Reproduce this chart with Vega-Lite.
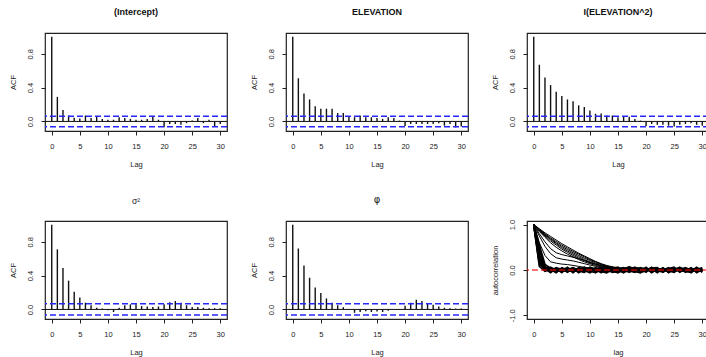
{
"$schema":"https://vega.github.io/schema/vega-lite/v6.json",
"autosize":{"type":"pad"},
"padding":{"left":8,"top":7,"right":0,"bottom":0},
"background":"white",
"datasets":{
"acf":[
{"p":1,"lag":0,"acf":1},{"p":1,"lag":1,"acf":0.29},{"p":1,"lag":2,"acf":0.135},{"p":1,"lag":3,"acf":0.07},{"p":1,"lag":4,"acf":0.045},{"p":1,"lag":5,"acf":0.035},{"p":1,"lag":6,"acf":0.07},{"p":1,"lag":7,"acf":0.04},{"p":1,"lag":8,"acf":0.06},{"p":1,"lag":9,"acf":0.03},{"p":1,"lag":10,"acf":0.02},{"p":1,"lag":11,"acf":0.02},{"p":1,"lag":12,"acf":0.05},{"p":1,"lag":13,"acf":0.04},{"p":1,"lag":14,"acf":0.03},{"p":1,"lag":15,"acf":0.02},{"p":1,"lag":16,"acf":0.02},{"p":1,"lag":17,"acf":0.03},{"p":1,"lag":18,"acf":0.06},{"p":1,"lag":19,"acf":0.02},{"p":1,"lag":20,"acf":-0.07},{"p":1,"lag":21,"acf":-0.03},{"p":1,"lag":22,"acf":-0.03},{"p":1,"lag":23,"acf":-0.04},{"p":1,"lag":24,"acf":-0.02},{"p":1,"lag":25,"acf":0.01},{"p":1,"lag":26,"acf":0.04},{"p":1,"lag":27,"acf":-0.02},{"p":1,"lag":28,"acf":0.02},{"p":1,"lag":29,"acf":-0.06},{"p":1,"lag":30,"acf":-0.03},
{"p":2,"lag":0,"acf":1},{"p":2,"lag":1,"acf":0.51},{"p":2,"lag":2,"acf":0.33},{"p":2,"lag":3,"acf":0.26},{"p":2,"lag":4,"acf":0.18},{"p":2,"lag":5,"acf":0.15},{"p":2,"lag":6,"acf":0.15},{"p":2,"lag":7,"acf":0.15},{"p":2,"lag":8,"acf":0.1},{"p":2,"lag":9,"acf":0.1},{"p":2,"lag":10,"acf":0.06},{"p":2,"lag":11,"acf":0.05},{"p":2,"lag":12,"acf":0.07},{"p":2,"lag":13,"acf":0.05},{"p":2,"lag":14,"acf":0.05},{"p":2,"lag":15,"acf":0.04},{"p":2,"lag":16,"acf":0.03},{"p":2,"lag":17,"acf":0.05},{"p":2,"lag":18,"acf":0.04},{"p":2,"lag":19,"acf":0.01},{"p":2,"lag":20,"acf":-0.055},{"p":2,"lag":21,"acf":-0.03},{"p":2,"lag":22,"acf":-0.03},{"p":2,"lag":23,"acf":-0.03},{"p":2,"lag":24,"acf":-0.03},{"p":2,"lag":25,"acf":-0.03},{"p":2,"lag":26,"acf":-0.02},{"p":2,"lag":27,"acf":-0.05},{"p":2,"lag":28,"acf":-0.03},{"p":2,"lag":29,"acf":-0.07},{"p":2,"lag":30,"acf":-0.06},
{"p":3,"lag":0,"acf":1},{"p":3,"lag":1,"acf":0.67},{"p":3,"lag":2,"acf":0.52},{"p":3,"lag":3,"acf":0.43},{"p":3,"lag":4,"acf":0.35},{"p":3,"lag":5,"acf":0.3},{"p":3,"lag":6,"acf":0.26},{"p":3,"lag":7,"acf":0.24},{"p":3,"lag":8,"acf":0.19},{"p":3,"lag":9,"acf":0.17},{"p":3,"lag":10,"acf":0.13},{"p":3,"lag":11,"acf":0.09},{"p":3,"lag":12,"acf":0.095},{"p":3,"lag":13,"acf":0.07},{"p":3,"lag":14,"acf":0.07},{"p":3,"lag":15,"acf":0.05},{"p":3,"lag":16,"acf":0.06},{"p":3,"lag":17,"acf":0.055},{"p":3,"lag":18,"acf":0.03},{"p":3,"lag":19,"acf":0.01},{"p":3,"lag":20,"acf":-0.055},{"p":3,"lag":21,"acf":-0.03},{"p":3,"lag":22,"acf":-0.04},{"p":3,"lag":23,"acf":-0.04},{"p":3,"lag":24,"acf":-0.05},{"p":3,"lag":25,"acf":-0.06},{"p":3,"lag":26,"acf":-0.04},{"p":3,"lag":27,"acf":-0.03},{"p":3,"lag":28,"acf":-0.02},{"p":3,"lag":29,"acf":-0.04},{"p":3,"lag":30,"acf":-0.05},
{"p":4,"lag":0,"acf":1},{"p":4,"lag":1,"acf":0.71},{"p":4,"lag":2,"acf":0.49},{"p":4,"lag":3,"acf":0.34},{"p":4,"lag":4,"acf":0.21},{"p":4,"lag":5,"acf":0.14},{"p":4,"lag":6,"acf":0.08},{"p":4,"lag":7,"acf":0.05},{"p":4,"lag":8,"acf":0.02},{"p":4,"lag":9,"acf":0.01},{"p":4,"lag":10,"acf":-0.01},{"p":4,"lag":11,"acf":-0.03},{"p":4,"lag":12,"acf":0.02},{"p":4,"lag":13,"acf":0.05},{"p":4,"lag":14,"acf":0.06},{"p":4,"lag":15,"acf":0.06},{"p":4,"lag":16,"acf":0.04},{"p":4,"lag":17,"acf":0.035},{"p":4,"lag":18,"acf":0.03},{"p":4,"lag":19,"acf":0.035},{"p":4,"lag":20,"acf":0.06},{"p":4,"lag":21,"acf":0.085},{"p":4,"lag":22,"acf":0.1},{"p":4,"lag":23,"acf":0.08},{"p":4,"lag":24,"acf":0.05},{"p":4,"lag":25,"acf":0.03},{"p":4,"lag":26,"acf":0.03},{"p":4,"lag":27,"acf":0.02},{"p":4,"lag":28,"acf":0.015},{"p":4,"lag":29,"acf":0.015},{"p":4,"lag":30,"acf":0.015},
{"p":5,"lag":0,"acf":1},{"p":5,"lag":1,"acf":0.72},{"p":5,"lag":2,"acf":0.52},{"p":5,"lag":3,"acf":0.375},{"p":5,"lag":4,"acf":0.26},{"p":5,"lag":5,"acf":0.195},{"p":5,"lag":6,"acf":0.13},{"p":5,"lag":7,"acf":0.08},{"p":5,"lag":8,"acf":0.05},{"p":5,"lag":9,"acf":0.025},{"p":5,"lag":10,"acf":0.005},{"p":5,"lag":11,"acf":-0.04},{"p":5,"lag":12,"acf":-0.03},{"p":5,"lag":13,"acf":-0.02},{"p":5,"lag":14,"acf":-0.03},{"p":5,"lag":15,"acf":-0.025},{"p":5,"lag":16,"acf":-0.03},{"p":5,"lag":17,"acf":-0.015},{"p":5,"lag":18,"acf":-0.005},{"p":5,"lag":19,"acf":0.005},{"p":5,"lag":20,"acf":0.045},{"p":5,"lag":21,"acf":0.08},{"p":5,"lag":22,"acf":0.115},{"p":5,"lag":23,"acf":0.1},{"p":5,"lag":24,"acf":0.07},{"p":5,"lag":25,"acf":0.055},{"p":5,"lag":26,"acf":0.035},{"p":5,"lag":27,"acf":0.02},{"p":5,"lag":28,"acf":0.015},{"p":5,"lag":29,"acf":0.01},{"p":5,"lag":30,"acf":0.01}
],
"clim":[
{"p":1,"c":0.062},{"p":1,"c":-0.062},{"p":2,"c":0.062},{"p":2,"c":-0.062},{"p":3,"c":0.062},{"p":3,"c":-0.062},
{"p":4,"c":0.066},{"p":4,"c":-0.066},{"p":5,"c":0.066},{"p":5,"c":-0.066}
],
"chains":[
{"c":"s1","l":0,"v":1},{"c":"s1","l":1,"v":0.91},{"c":"s1","l":2,"v":0.82},{"c":"s1","l":3,"v":0.74},{"c":"s1","l":4,"v":0.66},{"c":"s1","l":5,"v":0.58},{"c":"s1","l":6,"v":0.51},{"c":"s1","l":7,"v":0.44},{"c":"s1","l":8,"v":0.37},{"c":"s1","l":9,"v":0.31},{"c":"s1","l":10,"v":0.25},{"c":"s1","l":11,"v":0.19},{"c":"s1","l":12,"v":0.14},{"c":"s1","l":13,"v":0.1},{"c":"s1","l":14,"v":0.07},{"c":"s1","l":15,"v":0.05},{"c":"s1","l":16,"v":0.04},{"c":"s1","l":17,"v":0.03},{"c":"s1","l":18,"v":0.03},{"c":"s1","l":19,"v":0.02},{"c":"s1","l":20,"v":0.02},{"c":"s1","l":21,"v":0.03},{"c":"s1","l":22,"v":0.02},{"c":"s1","l":23,"v":0.01},{"c":"s1","l":24,"v":0.02},{"c":"s1","l":25,"v":0.01},{"c":"s1","l":26,"v":0},{"c":"s1","l":27,"v":0.01},{"c":"s1","l":28,"v":0.02},{"c":"s1","l":29,"v":0.01},{"c":"s1","l":30,"v":0},
{"c":"s2","l":0,"v":1},{"c":"s2","l":1,"v":0.9},{"c":"s2","l":2,"v":0.8},{"c":"s2","l":3,"v":0.71},{"c":"s2","l":4,"v":0.63},{"c":"s2","l":5,"v":0.55},{"c":"s2","l":6,"v":0.48},{"c":"s2","l":7,"v":0.41},{"c":"s2","l":8,"v":0.35},{"c":"s2","l":9,"v":0.29},{"c":"s2","l":10,"v":0.23},{"c":"s2","l":11,"v":0.18},{"c":"s2","l":12,"v":0.13},{"c":"s2","l":13,"v":0.09},{"c":"s2","l":14,"v":0.06},{"c":"s2","l":15,"v":0.04},{"c":"s2","l":16,"v":0.03},{"c":"s2","l":17,"v":0.04},{"c":"s2","l":18,"v":0.03},{"c":"s2","l":19,"v":0.02},{"c":"s2","l":20,"v":0.01},{"c":"s2","l":21,"v":0.02},{"c":"s2","l":22,"v":0.01},{"c":"s2","l":23,"v":0},{"c":"s2","l":24,"v":0.01},{"c":"s2","l":25,"v":0.02},{"c":"s2","l":26,"v":0.01},{"c":"s2","l":27,"v":0},{"c":"s2","l":28,"v":0.01},{"c":"s2","l":29,"v":0},{"c":"s2","l":30,"v":0.01},
{"c":"s3","l":0,"v":1},{"c":"s3","l":1,"v":0.89},{"c":"s3","l":2,"v":0.78},{"c":"s3","l":3,"v":0.69},{"c":"s3","l":4,"v":0.6},{"c":"s3","l":5,"v":0.52},{"c":"s3","l":6,"v":0.45},{"c":"s3","l":7,"v":0.38},{"c":"s3","l":8,"v":0.32},{"c":"s3","l":9,"v":0.26},{"c":"s3","l":10,"v":0.21},{"c":"s3","l":11,"v":0.16},{"c":"s3","l":12,"v":0.12},{"c":"s3","l":13,"v":0.08},{"c":"s3","l":14,"v":0.05},{"c":"s3","l":15,"v":0.04},{"c":"s3","l":16,"v":0.03},{"c":"s3","l":17,"v":0.02},{"c":"s3","l":18,"v":0.03},{"c":"s3","l":19,"v":0.02},{"c":"s3","l":20,"v":0.01},{"c":"s3","l":21,"v":0},{"c":"s3","l":22,"v":0.01},{"c":"s3","l":23,"v":0.02},{"c":"s3","l":24,"v":0.01},{"c":"s3","l":25,"v":0},{"c":"s3","l":26,"v":-0.01},{"c":"s3","l":27,"v":0},{"c":"s3","l":28,"v":0.01},{"c":"s3","l":29,"v":0},{"c":"s3","l":30,"v":-0.01},
{"c":"s4","l":0,"v":1},{"c":"s4","l":1,"v":0.88},{"c":"s4","l":2,"v":0.77},{"c":"s4","l":3,"v":0.67},{"c":"s4","l":4,"v":0.58},{"c":"s4","l":5,"v":0.49},{"c":"s4","l":6,"v":0.42},{"c":"s4","l":7,"v":0.35},{"c":"s4","l":8,"v":0.29},{"c":"s4","l":9,"v":0.23},{"c":"s4","l":10,"v":0.18},{"c":"s4","l":11,"v":0.14},{"c":"s4","l":12,"v":0.1},{"c":"s4","l":13,"v":0.07},{"c":"s4","l":14,"v":0.05},{"c":"s4","l":15,"v":0.03},{"c":"s4","l":16,"v":0.02},{"c":"s4","l":17,"v":0.08},{"c":"s4","l":18,"v":0.03},{"c":"s4","l":19,"v":0.01},{"c":"s4","l":20,"v":0},{"c":"s4","l":21,"v":0.01},{"c":"s4","l":22,"v":0},{"c":"s4","l":23,"v":-0.01},{"c":"s4","l":24,"v":0},{"c":"s4","l":25,"v":0.01},{"c":"s4","l":26,"v":0},{"c":"s4","l":27,"v":-0.01},{"c":"s4","l":28,"v":0},{"c":"s4","l":29,"v":0.01},{"c":"s4","l":30,"v":0},
{"c":"s5","l":0,"v":1},{"c":"s5","l":1,"v":0.87},{"c":"s5","l":2,"v":0.75},{"c":"s5","l":3,"v":0.64},{"c":"s5","l":4,"v":0.55},{"c":"s5","l":5,"v":0.46},{"c":"s5","l":6,"v":0.39},{"c":"s5","l":7,"v":0.32},{"c":"s5","l":8,"v":0.26},{"c":"s5","l":9,"v":0.21},{"c":"s5","l":10,"v":0.16},{"c":"s5","l":11,"v":0.12},{"c":"s5","l":12,"v":0.09},{"c":"s5","l":13,"v":0.06},{"c":"s5","l":14,"v":0.04},{"c":"s5","l":15,"v":0.03},{"c":"s5","l":16,"v":0.02},{"c":"s5","l":17,"v":0.01},{"c":"s5","l":18,"v":0},{"c":"s5","l":19,"v":0.01},{"c":"s5","l":20,"v":0},{"c":"s5","l":21,"v":-0.01},{"c":"s5","l":22,"v":0},{"c":"s5","l":23,"v":0.01},{"c":"s5","l":24,"v":0},{"c":"s5","l":25,"v":-0.01},{"c":"s5","l":26,"v":0},{"c":"s5","l":27,"v":0.01},{"c":"s5","l":28,"v":0},{"c":"s5","l":29,"v":-0.01},{"c":"s5","l":30,"v":0},
{"c":"s6","l":0,"v":1},{"c":"s6","l":1,"v":0.85},{"c":"s6","l":2,"v":0.72},{"c":"s6","l":3,"v":0.6},{"c":"s6","l":4,"v":0.5},{"c":"s6","l":5,"v":0.42},{"c":"s6","l":6,"v":0.35},{"c":"s6","l":7,"v":0.29},{"c":"s6","l":8,"v":0.23},{"c":"s6","l":9,"v":0.18},{"c":"s6","l":10,"v":0.14},{"c":"s6","l":11,"v":0.1},{"c":"s6","l":12,"v":0.07},{"c":"s6","l":13,"v":0.05},{"c":"s6","l":14,"v":0.03},{"c":"s6","l":15,"v":0.02},{"c":"s6","l":16,"v":0.01},{"c":"s6","l":17,"v":0},{"c":"s6","l":18,"v":0.01},{"c":"s6","l":19,"v":0},{"c":"s6","l":20,"v":-0.01},{"c":"s6","l":21,"v":0},{"c":"s6","l":22,"v":0.01},{"c":"s6","l":23,"v":0},{"c":"s6","l":24,"v":-0.01},{"c":"s6","l":25,"v":0},{"c":"s6","l":26,"v":0.01},{"c":"s6","l":27,"v":0},{"c":"s6","l":28,"v":-0.01},{"c":"s6","l":29,"v":0},{"c":"s6","l":30,"v":0.01},
{"c":"s7","l":0,"v":1},{"c":"s7","l":1,"v":0.8},{"c":"s7","l":2,"v":0.62},{"c":"s7","l":3,"v":0.47},{"c":"s7","l":4,"v":0.38},{"c":"s7","l":5,"v":0.34},{"c":"s7","l":6,"v":0.31},{"c":"s7","l":7,"v":0.28},{"c":"s7","l":8,"v":0.25},{"c":"s7","l":9,"v":0.21},{"c":"s7","l":10,"v":0.17},{"c":"s7","l":11,"v":0.13},{"c":"s7","l":12,"v":0.09},{"c":"s7","l":13,"v":0.06},{"c":"s7","l":14,"v":0.04},{"c":"s7","l":15,"v":0.02},{"c":"s7","l":16,"v":0.01},{"c":"s7","l":17,"v":0},{"c":"s7","l":18,"v":-0.01},{"c":"s7","l":19,"v":0},{"c":"s7","l":20,"v":0.01},{"c":"s7","l":21,"v":0},{"c":"s7","l":22,"v":-0.01},{"c":"s7","l":23,"v":0},{"c":"s7","l":24,"v":0.01},{"c":"s7","l":25,"v":0},{"c":"s7","l":26,"v":-0.01},{"c":"s7","l":27,"v":0},{"c":"s7","l":28,"v":0.01},{"c":"s7","l":29,"v":0},{"c":"s7","l":30,"v":-0.01},
{"c":"s8","l":0,"v":1},{"c":"s8","l":1,"v":0.75},{"c":"s8","l":2,"v":0.52},{"c":"s8","l":3,"v":0.36},{"c":"s8","l":4,"v":0.27},{"c":"s8","l":5,"v":0.24},{"c":"s8","l":6,"v":0.22},{"c":"s8","l":7,"v":0.2},{"c":"s8","l":8,"v":0.17},{"c":"s8","l":9,"v":0.14},{"c":"s8","l":10,"v":0.11},{"c":"s8","l":11,"v":0.08},{"c":"s8","l":12,"v":0.05},{"c":"s8","l":13,"v":0.03},{"c":"s8","l":14,"v":0.02},{"c":"s8","l":15,"v":0.01},{"c":"s8","l":16,"v":0},{"c":"s8","l":17,"v":0.01},{"c":"s8","l":18,"v":0},{"c":"s8","l":19,"v":-0.01},{"c":"s8","l":20,"v":0},{"c":"s8","l":21,"v":0.01},{"c":"s8","l":22,"v":0},{"c":"s8","l":23,"v":-0.01},{"c":"s8","l":24,"v":0},{"c":"s8","l":25,"v":0.01},{"c":"s8","l":26,"v":0},{"c":"s8","l":27,"v":-0.01},{"c":"s8","l":28,"v":0},{"c":"s8","l":29,"v":0.01},{"c":"s8","l":30,"v":0},
{"c":"s9","l":0,"v":1},{"c":"s9","l":1,"v":0.6},{"c":"s9","l":2,"v":0.32},{"c":"s9","l":3,"v":0.18},{"c":"s9","l":4,"v":0.15},{"c":"s9","l":5,"v":0.13},{"c":"s9","l":6,"v":0.12},{"c":"s9","l":7,"v":0.1},{"c":"s9","l":8,"v":0.08},{"c":"s9","l":9,"v":0.06},{"c":"s9","l":10,"v":0.04},{"c":"s9","l":11,"v":0.03},{"c":"s9","l":12,"v":0.02},{"c":"s9","l":13,"v":0.01},{"c":"s9","l":14,"v":0},{"c":"s9","l":15,"v":0.01},{"c":"s9","l":16,"v":0},{"c":"s9","l":17,"v":-0.01},{"c":"s9","l":18,"v":0},{"c":"s9","l":19,"v":0.01},{"c":"s9","l":20,"v":0},{"c":"s9","l":21,"v":-0.01},{"c":"s9","l":22,"v":0},{"c":"s9","l":23,"v":0.01},{"c":"s9","l":24,"v":0},{"c":"s9","l":25,"v":-0.01},{"c":"s9","l":26,"v":0},{"c":"s9","l":27,"v":0.01},{"c":"s9","l":28,"v":0},{"c":"s9","l":29,"v":-0.01},{"c":"s9","l":30,"v":0},
{"c":"f1","l":0,"v":1},{"c":"f1","l":1,"v":0.55},{"c":"f1","l":2,"v":0.12},{"c":"f1","l":3,"v":0.04},{"c":"f1","l":4,"v":0.02},{"c":"f1","l":5,"v":-0.03},{"c":"f1","l":6,"v":0.01},{"c":"f1","l":7,"v":0.05},{"c":"f1","l":8,"v":-0.02},{"c":"f1","l":9,"v":-0.05},{"c":"f1","l":10,"v":0.03},{"c":"f1","l":11,"v":0},{"c":"f1","l":12,"v":-0.04},{"c":"f1","l":13,"v":0.02},{"c":"f1","l":14,"v":0.05},{"c":"f1","l":15,"v":-0.01},{"c":"f1","l":16,"v":-0.06},{"c":"f1","l":17,"v":0.02},{"c":"f1","l":18,"v":0.04},{"c":"f1","l":19,"v":-0.03},{"c":"f1","l":20,"v":0.01},{"c":"f1","l":21,"v":0.05},{"c":"f1","l":22,"v":-0.02},{"c":"f1","l":23,"v":-0.04},{"c":"f1","l":24,"v":0.03},{"c":"f1","l":25,"v":-0.01},{"c":"f1","l":26,"v":0.06},{"c":"f1","l":27,"v":-0.03},{"c":"f1","l":28,"v":-0.05},{"c":"f1","l":29,"v":0.02},{"c":"f1","l":30,"v":0.04},
{"c":"f2","l":0,"v":1},{"c":"f2","l":1,"v":0.45},{"c":"f2","l":2,"v":0.08},{"c":"f2","l":3,"v":-0.02},{"c":"f2","l":4,"v":0.05},{"c":"f2","l":5,"v":0.01},{"c":"f2","l":6,"v":-0.04},{"c":"f2","l":7,"v":0.03},{"c":"f2","l":8,"v":-0.06},{"c":"f2","l":9,"v":0.02},{"c":"f2","l":10,"v":0.04},{"c":"f2","l":11,"v":-0.03},{"c":"f2","l":12,"v":0.01},{"c":"f2","l":13,"v":-0.05},{"c":"f2","l":14,"v":0.03},{"c":"f2","l":15,"v":0.06},{"c":"f2","l":16,"v":-0.02},{"c":"f2","l":17,"v":-0.04},{"c":"f2","l":18,"v":0.01},{"c":"f2","l":19,"v":0.05},{"c":"f2","l":20,"v":-0.03},{"c":"f2","l":21,"v":0.02},{"c":"f2","l":22,"v":-0.06},{"c":"f2","l":23,"v":0.04},{"c":"f2","l":24,"v":-0.01},{"c":"f2","l":25,"v":0.03},{"c":"f2","l":26,"v":-0.04},{"c":"f2","l":27,"v":0.05},{"c":"f2","l":28,"v":0},{"c":"f2","l":29,"v":-0.03},{"c":"f2","l":30,"v":0.02},
{"c":"f3","l":0,"v":1},{"c":"f3","l":1,"v":0.35},{"c":"f3","l":2,"v":0.05},{"c":"f3","l":3,"v":0.03},{"c":"f3","l":4,"v":-0.05},{"c":"f3","l":5,"v":0.04},{"c":"f3","l":6,"v":0.02},{"c":"f3","l":7,"v":-0.03},{"c":"f3","l":8,"v":0.05},{"c":"f3","l":9,"v":-0.01},{"c":"f3","l":10,"v":-0.06},{"c":"f3","l":11,"v":0.03},{"c":"f3","l":12,"v":0.05},{"c":"f3","l":13,"v":-0.02},{"c":"f3","l":14,"v":-0.04},{"c":"f3","l":15,"v":0.02},{"c":"f3","l":16,"v":0.04},{"c":"f3","l":17,"v":-0.05},{"c":"f3","l":18,"v":0.03},{"c":"f3","l":19,"v":-0.02},{"c":"f3","l":20,"v":0.06},{"c":"f3","l":21,"v":-0.04},{"c":"f3","l":22,"v":0.01},{"c":"f3","l":23,"v":0.03},{"c":"f3","l":24,"v":-0.05},{"c":"f3","l":25,"v":0.04},{"c":"f3","l":26,"v":-0.02},{"c":"f3","l":27,"v":-0.03},{"c":"f3","l":28,"v":0.05},{"c":"f3","l":29,"v":-0.06},{"c":"f3","l":30,"v":0.01},
{"c":"f4","l":0,"v":1},{"c":"f4","l":1,"v":0.25},{"c":"f4","l":2,"v":0.02},{"c":"f4","l":3,"v":-0.04},{"c":"f4","l":4,"v":0.03},{"c":"f4","l":5,"v":-0.06},{"c":"f4","l":6,"v":0.05},{"c":"f4","l":7,"v":-0.01},{"c":"f4","l":8,"v":0.03},{"c":"f4","l":9,"v":0.05},{"c":"f4","l":10,"v":-0.03},{"c":"f4","l":11,"v":-0.05},{"c":"f4","l":12,"v":0.04},{"c":"f4","l":13,"v":0.01},{"c":"f4","l":14,"v":-0.02},{"c":"f4","l":15,"v":-0.06},{"c":"f4","l":16,"v":0.03},{"c":"f4","l":17,"v":0.05},{"c":"f4","l":18,"v":-0.04},{"c":"f4","l":19,"v":0.02},{"c":"f4","l":20,"v":-0.01},{"c":"f4","l":21,"v":0.04},{"c":"f4","l":22,"v":0.05},{"c":"f4","l":23,"v":-0.05},{"c":"f4","l":24,"v":0.02},{"c":"f4","l":25,"v":-0.03},{"c":"f4","l":26,"v":0.01},{"c":"f4","l":27,"v":0.04},{"c":"f4","l":28,"v":-0.06},{"c":"f4","l":29,"v":0.03},{"c":"f4","l":30,"v":-0.04},
{"c":"f5","l":0,"v":1},{"c":"f5","l":1,"v":0.18},{"c":"f5","l":2,"v":-0.01},{"c":"f5","l":3,"v":0.06},{"c":"f5","l":4,"v":-0.02},{"c":"f5","l":5,"v":0.03},{"c":"f5","l":6,"v":-0.05},{"c":"f5","l":7,"v":0.04},{"c":"f5","l":8,"v":0.01},{"c":"f5","l":9,"v":-0.04},{"c":"f5","l":10,"v":0.06},{"c":"f5","l":11,"v":0.02},{"c":"f5","l":12,"v":-0.06},{"c":"f5","l":13,"v":0.04},{"c":"f5","l":14,"v":-0.03},{"c":"f5","l":15,"v":0.01},{"c":"f5","l":16,"v":0.05},{"c":"f5","l":17,"v":-0.02},{"c":"f5","l":18,"v":-0.05},{"c":"f5","l":19,"v":0.04},{"c":"f5","l":20,"v":0.03},{"c":"f5","l":21,"v":-0.06},{"c":"f5","l":22,"v":0.02},{"c":"f5","l":23,"v":0},{"c":"f5","l":24,"v":0.05},{"c":"f5","l":25,"v":-0.04},{"c":"f5","l":26,"v":0.03},{"c":"f5","l":27,"v":-0.02},{"c":"f5","l":28,"v":0.04},{"c":"f5","l":29,"v":-0.01},{"c":"f5","l":30,"v":0.05},
{"c":"f6","l":0,"v":1},{"c":"f6","l":1,"v":0.12},{"c":"f6","l":2,"v":0.03},{"c":"f6","l":3,"v":-0.06},{"c":"f6","l":4,"v":0.04},{"c":"f6","l":5,"v":-0.02},{"c":"f6","l":6,"v":0.06},{"c":"f6","l":7,"v":-0.05},{"c":"f6","l":8,"v":0.02},{"c":"f6","l":9,"v":0.04},{"c":"f6","l":10,"v":-0.02},{"c":"f6","l":11,"v":0.05},{"c":"f6","l":12,"v":-0.03},{"c":"f6","l":13,"v":-0.06},{"c":"f6","l":14,"v":0.02},{"c":"f6","l":15,"v":0.04},{"c":"f6","l":16,"v":-0.04},{"c":"f6","l":17,"v":0.01},{"c":"f6","l":18,"v":0.06},{"c":"f6","l":19,"v":-0.05},{"c":"f6","l":20,"v":-0.02},{"c":"f6","l":21,"v":0.03},{"c":"f6","l":22,"v":-0.03},{"c":"f6","l":23,"v":0.05},{"c":"f6","l":24,"v":-0.06},{"c":"f6","l":25,"v":0.02},{"c":"f6","l":26,"v":0.05},{"c":"f6","l":27,"v":-0.05},{"c":"f6","l":28,"v":0.01},{"c":"f6","l":29,"v":0.04},{"c":"f6","l":30,"v":-0.03},
{"c":"f7","l":0,"v":1},{"c":"f7","l":1,"v":0.08},{"c":"f7","l":2,"v":-0.03},{"c":"f7","l":3,"v":0.01},{"c":"f7","l":4,"v":-0.06},{"c":"f7","l":5,"v":0.05},{"c":"f7","l":6,"v":-0.03},{"c":"f7","l":7,"v":0.02},{"c":"f7","l":8,"v":-0.04},{"c":"f7","l":9,"v":0.06},{"c":"f7","l":10,"v":0.01},{"c":"f7","l":11,"v":-0.06},{"c":"f7","l":12,"v":0.03},{"c":"f7","l":13,"v":0.05},{"c":"f7","l":14,"v":-0.05},{"c":"f7","l":15,"v":-0.03},{"c":"f7","l":16,"v":0.02},{"c":"f7","l":17,"v":0.06},{"c":"f7","l":18,"v":-0.03},{"c":"f7","l":19,"v":-0.06},{"c":"f7","l":20,"v":0.04},{"c":"f7","l":21,"v":-0.01},{"c":"f7","l":22,"v":0.04},{"c":"f7","l":23,"v":-0.03},{"c":"f7","l":24,"v":0.03},{"c":"f7","l":25,"v":0.06},{"c":"f7","l":26,"v":-0.05},{"c":"f7","l":27,"v":0.02},{"c":"f7","l":28,"v":-0.03},{"c":"f7","l":29,"v":0.05},{"c":"f7","l":30,"v":-0.05},
{"c":"f8","l":0,"v":1},{"c":"f8","l":1,"v":0.3},{"c":"f8","l":2,"v":0.06},{"c":"f8","l":3,"v":0.02},{"c":"f8","l":4,"v":0.01},{"c":"f8","l":5,"v":-0.04},{"c":"f8","l":6,"v":0.03},{"c":"f8","l":7,"v":-0.06},{"c":"f8","l":8,"v":0.04},{"c":"f8","l":9,"v":0},{"c":"f8","l":10,"v":0.05},{"c":"f8","l":11,"v":-0.04},{"c":"f8","l":12,"v":-0.02},{"c":"f8","l":13,"v":0.03},{"c":"f8","l":14,"v":0.06},{"c":"f8","l":15,"v":-0.05},{"c":"f8","l":16,"v":0},{"c":"f8","l":17,"v":-0.03},{"c":"f8","l":18,"v":0.05},{"c":"f8","l":19,"v":0.03},{"c":"f8","l":20,"v":-0.05},{"c":"f8","l":21,"v":0.06},{"c":"f8","l":22,"v":-0.04},{"c":"f8","l":23,"v":0.02},{"c":"f8","l":24,"v":-0.02},{"c":"f8","l":25,"v":-0.05},{"c":"f8","l":26,"v":0.04},{"c":"f8","l":27,"v":0.03},{"c":"f8","l":28,"v":-0.04},{"c":"f8","l":29,"v":0.06},{"c":"f8","l":30,"v":-0.02}
]
},
"columns":3,
"spacing":{"row":90,"column":59},
"bounds":"flush",
"concat":[
{"width":182,"height":98,"title":{"text":"(Intercept)"},
 "layer":[
  {"data":{"name":"acf"},"transform":[{"filter":"datum.p==1"}],"mark":{"type":"rule","color":"#111","strokeWidth":1.4},
   "encoding":{"x":{"field":"lag","type":"quantitative","scale":{"domain":[-1.2,31.2],"nice":false,"zero":false},"axis":{"values":[0,5,10,15,20,25,30],"title":"Lag"}},
    "y":{"field":"acf","type":"quantitative","scale":{"domain":[-0.113,1.045],"nice":false,"zero":false},"axis":{"values":[0,0.2,0.4,0.6,0.8,1],"title":"ACF","labelExpr":"(datum.value==0||abs(datum.value-0.4)<0.001||abs(datum.value-0.8)<0.001)?format(datum.value,'.1f'):''"}},
    "y2":{"datum":0}}},
  {"data":{"values":[{}]},"mark":{"type":"rule","color":"#111","strokeWidth":1},"encoding":{"y":{"datum":0}}},
  {"data":{"name":"clim"},"transform":[{"filter":"datum.p==1"}],"mark":{"type":"rule","color":"#2626ff","strokeDash":[6,3],"strokeWidth":1.5},"encoding":{"y":{"field":"c","type":"quantitative"}}}
 ]},
{"width":182,"height":98,"title":{"text":"ELEVATION"},
 "layer":[
  {"data":{"name":"acf"},"transform":[{"filter":"datum.p==2"}],"mark":{"type":"rule","color":"#111","strokeWidth":1.4},
   "encoding":{"x":{"field":"lag","type":"quantitative","scale":{"domain":[-1.2,31.2],"nice":false,"zero":false},"axis":{"values":[0,5,10,15,20,25,30],"title":"Lag"}},
    "y":{"field":"acf","type":"quantitative","scale":{"domain":[-0.113,1.045],"nice":false,"zero":false},"axis":{"values":[0,0.2,0.4,0.6,0.8,1],"title":"ACF","labelExpr":"(datum.value==0||abs(datum.value-0.4)<0.001||abs(datum.value-0.8)<0.001)?format(datum.value,'.1f'):''"}},
    "y2":{"datum":0}}},
  {"data":{"values":[{}]},"mark":{"type":"rule","color":"#111","strokeWidth":1},"encoding":{"y":{"datum":0}}},
  {"data":{"name":"clim"},"transform":[{"filter":"datum.p==2"}],"mark":{"type":"rule","color":"#2626ff","strokeDash":[6,3],"strokeWidth":1.5},"encoding":{"y":{"field":"c","type":"quantitative"}}}
 ]},
{"width":182,"height":98,"title":{"text":"I(ELEVATION^2)"},
 "layer":[
  {"data":{"name":"acf"},"transform":[{"filter":"datum.p==3"}],"mark":{"type":"rule","color":"#111","strokeWidth":1.4},
   "encoding":{"x":{"field":"lag","type":"quantitative","scale":{"domain":[-1.2,31.2],"nice":false,"zero":false},"axis":{"values":[0,5,10,15,20,25,30],"title":"Lag"}},
    "y":{"field":"acf","type":"quantitative","scale":{"domain":[-0.113,1.045],"nice":false,"zero":false},"axis":{"values":[0,0.2,0.4,0.6,0.8,1],"title":"ACF","labelExpr":"(datum.value==0||abs(datum.value-0.4)<0.001||abs(datum.value-0.8)<0.001)?format(datum.value,'.1f'):''"}},
    "y2":{"datum":0}}},
  {"data":{"values":[{}]},"mark":{"type":"rule","color":"#111","strokeWidth":1},"encoding":{"y":{"datum":0}}},
  {"data":{"name":"clim"},"transform":[{"filter":"datum.p==3"}],"mark":{"type":"rule","color":"#2626ff","strokeDash":[6,3],"strokeWidth":1.5},"encoding":{"y":{"field":"c","type":"quantitative"}}}
 ]},
{"width":182,"height":98,"title":{"text":"σ²","fontWeight":"normal","fontSize":8.5},
 "layer":[
  {"data":{"name":"acf"},"transform":[{"filter":"datum.p==4"}],"mark":{"type":"rule","color":"#111","strokeWidth":1.4},
   "encoding":{"x":{"field":"lag","type":"quantitative","scale":{"domain":[-1.2,31.2],"nice":false,"zero":false},"axis":{"values":[0,5,10,15,20,25,30],"title":"Lag"}},
    "y":{"field":"acf","type":"quantitative","scale":{"domain":[-0.113,1.045],"nice":false,"zero":false},"axis":{"values":[0,0.2,0.4,0.6,0.8,1],"title":"ACF","labelExpr":"(datum.value==0||abs(datum.value-0.4)<0.001||abs(datum.value-0.8)<0.001)?format(datum.value,'.1f'):''"}},
    "y2":{"datum":0}}},
  {"data":{"values":[{}]},"mark":{"type":"rule","color":"#111","strokeWidth":1},"encoding":{"y":{"datum":0}}},
  {"data":{"name":"clim"},"transform":[{"filter":"datum.p==4"}],"mark":{"type":"rule","color":"#2626ff","strokeDash":[6,3],"strokeWidth":1.5},"encoding":{"y":{"field":"c","type":"quantitative"}}}
 ]},
{"width":182,"height":98,"title":{"text":"φ","fontWeight":"normal","fontSize":10,"color":"#222","font":"DejaVu Sans"},
 "layer":[
  {"data":{"name":"acf"},"transform":[{"filter":"datum.p==5"}],"mark":{"type":"rule","color":"#111","strokeWidth":1.4},
   "encoding":{"x":{"field":"lag","type":"quantitative","scale":{"domain":[-1.2,31.2],"nice":false,"zero":false},"axis":{"values":[0,5,10,15,20,25,30],"title":"Lag"}},
    "y":{"field":"acf","type":"quantitative","scale":{"domain":[-0.113,1.045],"nice":false,"zero":false},"axis":{"values":[0,0.2,0.4,0.6,0.8,1],"title":"ACF","labelExpr":"(datum.value==0||abs(datum.value-0.4)<0.001||abs(datum.value-0.8)<0.001)?format(datum.value,'.1f'):''"}},
    "y2":{"datum":0}}},
  {"data":{"values":[{}]},"mark":{"type":"rule","color":"#111","strokeWidth":1},"encoding":{"y":{"datum":0}}},
  {"data":{"name":"clim"},"transform":[{"filter":"datum.p==5"}],"mark":{"type":"rule","color":"#2626ff","strokeDash":[6,3],"strokeWidth":1.5},"encoding":{"y":{"field":"c","type":"quantitative"}}}
 ]},
{"width":182,"height":98,
 "layer":[
  {"data":{"name":"chains"},"transform":[{"filter":"indexof(datum.c,'s')==0"}],"mark":{"type":"line","color":"black","strokeWidth":1},
   "encoding":{"x":{"field":"l","type":"quantitative","scale":{"domain":[-1.2,31.2],"nice":false,"zero":false},"axis":{"values":[0,5,10,15,20,25,30],"title":"lag"}},
    "y":{"field":"v","type":"quantitative","scale":{"domain":[-1.08,1.08],"nice":false,"zero":false},"axis":{"values":[-1,-0.5,0,0.5,1],"title":"autocorrelation","labelExpr":"replace(format(datum.value,'.1f'),'−','-')"}},
    "detail":{"field":"c"}}},
  {"data":{"name":"chains"},"transform":[{"filter":"indexof(datum.c,'f')==0"}],"mark":{"type":"line","color":"black","strokeWidth":1.7},
   "encoding":{"x":{"field":"l","type":"quantitative","scale":{"domain":[-1.2,31.2],"nice":false,"zero":false},"axis":{"values":[0,5,10,15,20,25,30],"title":"lag"}},
    "y":{"field":"v","type":"quantitative","scale":{"domain":[-1.08,1.08],"nice":false,"zero":false},"axis":{"values":[-1,-0.5,0,0.5,1],"title":"autocorrelation","labelExpr":"replace(format(datum.value,'.1f'),'−','-')"}},
    "detail":{"field":"c"}}},
  {"data":{"values":[{}]},"mark":{"type":"rule","color":"#ff0000","opacity":0.55,"strokeDash":[6,3],"strokeWidth":2},"encoding":{"y":{"datum":0}}}
 ]}
],
"config":{
 "view":{"stroke":"#222","strokeWidth":1.2},
 "font":"Liberation Sans",
 "title":{"font":"Liberation Sans","fontSize":9,"fontWeight":"bold","color":"#111","baseline":"middle","offset":16},
 "axis":{"labelFont":"Liberation Sans","titleFont":"Liberation Sans","labelFontSize":7.5,"titleFontSize":7.5,"titleFontWeight":"normal","labelColor":"#222","titleColor":"#222","tickColor":"#222","tickSize":4,"labelPadding":7,"domain":false,"grid":false,"labelFlush":false,"labelOverlap":false},
 "axisX":{"titlePadding":11},
 "axisY":{"labelAngle":-90,"labelAlign":"center","labelBaseline":"bottom","titlePadding":9}
}
}
